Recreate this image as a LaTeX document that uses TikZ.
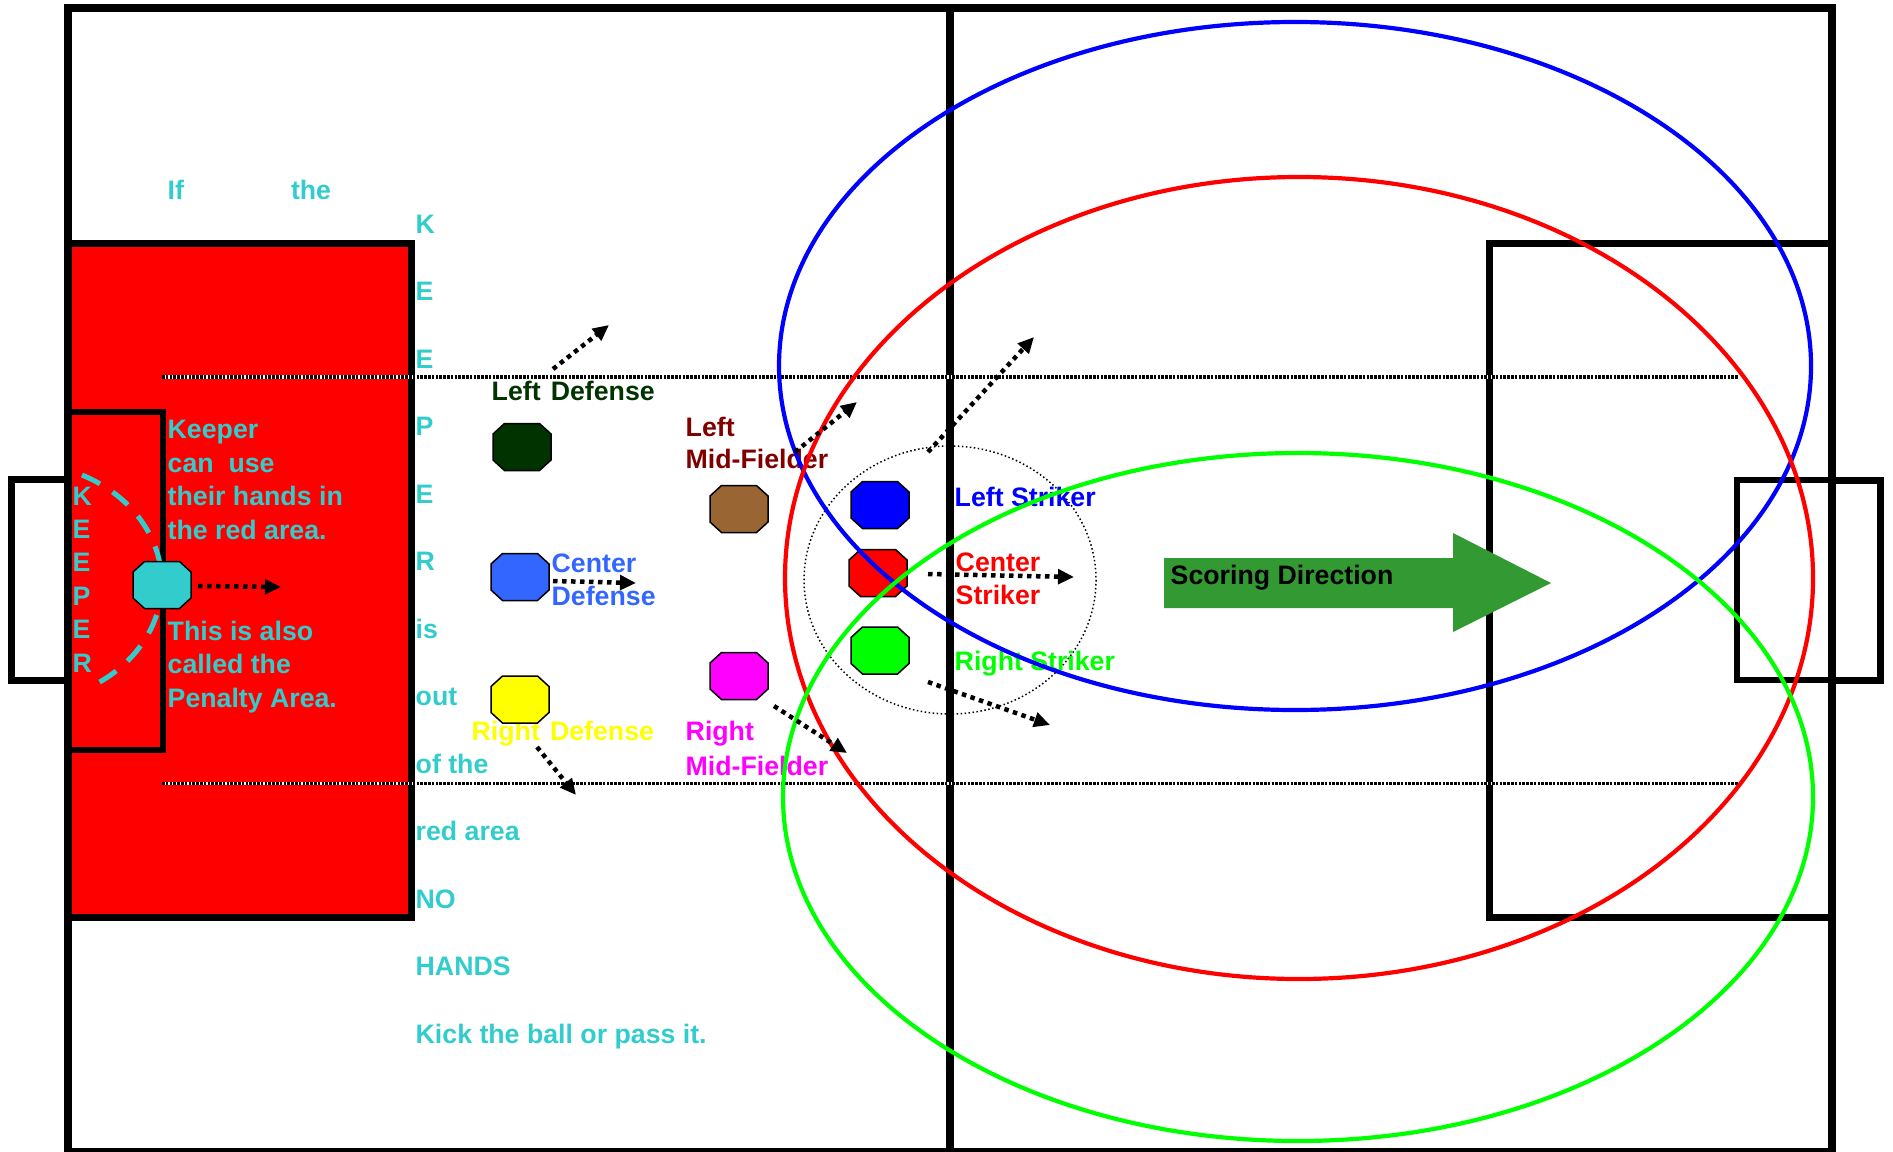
\documentclass[tikz,border=0pt]{standalone}
\usepackage{fontspec}
\setmainfont{Liberation Sans}
\usetikzlibrary{arrows.meta}

\definecolor{keepercyan}{RGB}{51,204,204}
\definecolor{defgreen}{RGB}{0,51,0}
\definecolor{defblue}{RGB}{51,102,255}
\definecolor{defyellow}{RGB}{255,255,0}
\definecolor{midbrown}{RGB}{153,102,51}
\definecolor{midred}{RGB}{128,0,0}
\definecolor{midmagenta}{RGB}{255,0,255}
\definecolor{arrowgreen}{RGB}{51,153,51}

\begin{document}
\begin{tikzpicture}[
    x=0.1mm, y=-0.1mm,   % one unit = one pixel of the sketch, y runs down
    font=\bfseries\fontsize{7.6pt}{9.5pt}\selectfont,
    % Pitch styles:
    fieldline/.style={line width=0.8mm},
    boxline/.style={line width=0.7mm},
    goalline/.style={line width=0.55mm},
    channel/.style={line width=0.34mm, dash pattern=on 0.26mm off 0.12mm},
    kickoff/.style={line width=0.15mm, dash pattern=on 0.15mm off 0.25mm},
    keeperzone/.style={keepercyan, line width=0.5mm, dash pattern=on 2mm off 1.5mm},
    zone/.style={line width=0.42mm},
    % Player (octagon) and text styles:
    pics/player/.style={code={
        \filldraw[line width=0.15mm, fill=#1]
            (-29,-13) -- (-17.5,-23.5) -- (17.5,-23.5) -- (29,-13)
            -- (29,13) -- (17.5,23.5) -- (-17.5,23.5) -- (-29,13) -- cycle;
        \coordinate (-c) at (0,0);}},
    tag/.style={anchor=base west, inner sep=0pt, align=left, text=#1},
    spaced/.style={font=\bfseries\fontsize{7.6pt}{#1}\selectfont},
    % Arrow style:
    move/.style={line width=0.45mm, dash pattern=on 0.45mm off 0.45mm,
                 -{Triangle[length=1.6mm, width=1.45mm]}},
]
\useasboundingbox (0,0) rectangle (1893,1151);

% --- PITCH ---
% red penalty area on the left
\filldraw[boxline, fill=red] (68,243) rectangle (411,917);
\draw[fieldline] (68,8) rectangle (1832,1151.5);
\draw[fieldline] (950,8) -- (950,1151.5);
% goal areas and goals
\draw[goalline] (68,412) -- (163,412) -- (163,750) -- (68,750);
\draw[boxline]  (68,479) -- (11,479) -- (11,680) -- (68,680);
\draw[boxline]  (1832,243) -- (1489,243) -- (1489,917) -- (1832,917);
\draw[goalline] (1832,480) -- (1737,480) -- (1737,680) -- (1832,680);
\draw[boxline]  (1832,480) -- (1880,480) -- (1880,680) -- (1832,680);
% dotted channels
\draw[white, line width=0.34mm] (162,377) -- (1738,377);
\draw[channel] (162,377) -- (1738,377);
\draw[white, line width=0.34mm] (162,783.5) -- (1738,783.5);
\draw[channel] (162,783.5) -- (1738,783.5);
% centre circle
\draw[kickoff] (950,580) ellipse [x radius=146, y radius=134];
% keeper zone
\draw[keeperzone] (82,475) arc [start angle=-64, end angle=62, x radius=142, y radius=120];

% --- TEXT (placed at the baseline of the last line) ---
\node[tag=keepercyan] (iftext) at (167,200) {If\hspace{10.7mm}the};
\node[tag=keepercyan, spaced=19.2pt] (rule) at (415,1043)
     {K\\E\\E\\P\\E\\R\\is\\out\\of the\\red area\\NO\\HANDS\\Kick the ball or pass it.};
\node[tag=keepercyan, spaced=9.5pt] (gkword) at (72,672) {K\\E\\E\\P\\E\\R};
\node[tag=keepercyan, spaced=9.5pt] (hands) at (167,539)
     {Keeper\\can\ \ use\\their hands in\\the red area.};
\node[tag=keepercyan, spaced=9.5pt] (penalty) at (167,707)
     {This is also\\called the\\Penalty Area.};

\node[tag=defgreen] (ldeftext) at (491,400) {Left\hspace{0.38em}Defense};
\node[tag=defblue, spaced=9.2pt] (cdeftext) at (551,605) {Center\\Defense};
\node[tag=defyellow] (rdeftext) at (471,740) {Right\hspace{0.38em}Defense};
\node[tag=midred, spaced=8.95pt] (lmidtext) at (685,468) {Left\\Mid-Fielder};
\node[tag=midmagenta, spaced=9.95pt] (rmidtext) at (685,775) {Right\\Mid-Fielder};
\node[tag=blue] (lstrtext) at (954,506) {Left Striker};
\node[tag=red, spaced=9.2pt] (cstrtext) at (955,604) {Center\\Striker};
\node[tag=green] (rstrtext) at (954,670) {Right Striker};

% --- PLAYERS ---
\pic (gk)   at (162,585)   {player=keepercyan};
\pic (ldef) at (522,447)   {player=defgreen};
\pic (cdef) at (520,577)   {player=defblue};
\pic (rdef) at (520,699.5) {player=defyellow};
\pic (lmid) at (739,509)   {player=midbrown};
\pic (rmid) at (739,676)   {player=midmagenta};
\pic (lstr) at (880,505)   {player=blue};
\pic (cstr) at (878,573)   {player=red};
\pic (rstr) at (880,650.5) {player=green};

% Scoring direction
\fill[arrowgreen] (1164,558) -- (1453,558) -- (1453,533) -- (1551,583)
     -- (1453,632) -- (1453,608) -- (1164,608) -- cycle;
\node[tag=black] (scoring) at (1170,584) {Scoring Direction};

% --- ZONES ---
\draw[zone, blue]  (1295,366) ellipse [x radius=516, y radius=344];
\draw[zone, red]   (1299,578) ellipse [x radius=514, y radius=401];
\draw[zone, green] (1298,797) ellipse [x radius=515, y radius=344];

% --- RUNS ---
\coordinate (gkA)   at (198,586);  \coordinate (gkB)   at (281,587);
\coordinate (ldefA) at (553,369);  \coordinate (ldefB) at (609,325);
\coordinate (cdefA) at (553,581);  \coordinate (cdefB) at (636,583);
\coordinate (rdefA) at (537,747);  \coordinate (rdefB) at (576,795);
\coordinate (lmidA) at (795,452);  \coordinate (lmidB) at (857,402);
\coordinate (rmidA) at (774,706);  \coordinate (rmidB) at (847,753);
\coordinate (lstrA) at (928,452);  \coordinate (lstrB) at (1034,337);
\coordinate (cstrA) at (928,574);  \coordinate (cstrB) at (1074,577);
\coordinate (rstrA) at (928,682);  \coordinate (rstrB) at (1050,725);

\draw[move] (gkA) -- (gkB);
\draw[move] (ldefA) -- (ldefB);
\draw[move] (cdefA) -- (cdefB);
\draw[move] (rdefA) -- (rdefB);
\draw[move] (lmidA) -- (lmidB);
\draw[move] (rmidA) -- (rmidB);
\draw[move] (lstrA) -- (lstrB);
\draw[move] (cstrA) -- (cstrB);
\draw[move] (rstrA) -- (rstrB);

\end{tikzpicture}
\end{document}
